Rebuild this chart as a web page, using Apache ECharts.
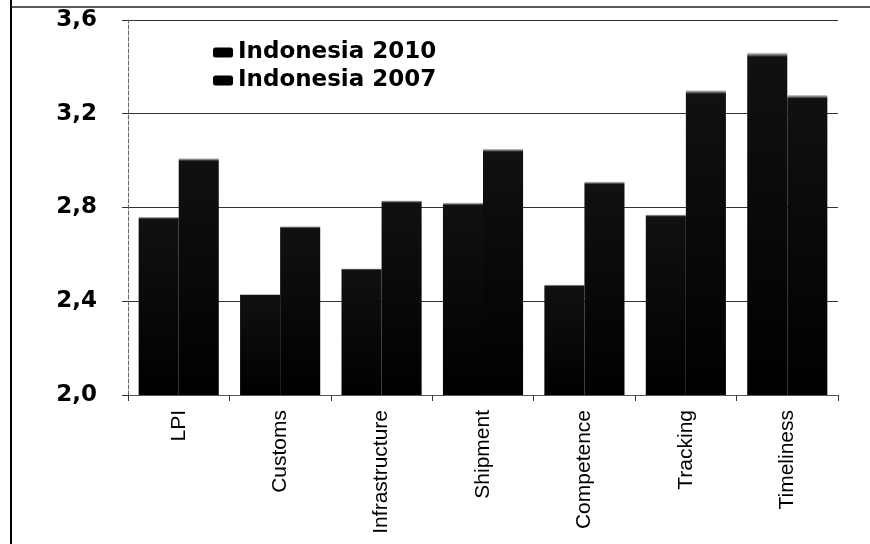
<!DOCTYPE html>
<html>
<head>
<meta charset="utf-8">
<script src="https://cdn.jsdelivr.net/npm/echarts@6/dist/echarts.min.js"></script>
<style>
  html, body { margin: 0; padding: 0; background: #fff; }
  #chart { width: 870px; height: 544px; }
</style>
</head>
<body>
<div id="chart"></div>
<script>
// categories and values
const categories = ["LPI", "Customs", "Infrastructure", "Shipment", "Competence", "Tracking", "Timeliness"];
const indonesia2010 = [2.76, 2.43, 2.54, 2.82, 2.47, 2.77, 3.46];
const indonesia2007 = [3.01, 2.72, 2.83, 3.05, 2.91, 3.30, 3.28];
const yTicks = [2.0, 2.4, 2.8, 3.2, 3.6];

const chart = echarts.init(document.getElementById("chart"));

// black bars with a thin light rim on top
const barFill = {
  type: "linear", x: 0, y: 0, x2: 0, y2: 1,
  colorStops: [
    { offset: 0, color: "#d8d8d8" },
    { offset: 0.012, color: "#111" },
    { offset: 1, color: "#000" },
  ],
};

const option = {
  backgroundColor: "#fff",
  animation: false,
  grid: { left: 128, right: 32, top: 20, bottom: 149 },
  legend: {
    orient: "vertical",
    left: 208,
    top: 36,
    itemWidth: 20,
    itemHeight: 10,
    itemGap: 5,
    icon: "roundRect",
    textStyle: {
      fontFamily: "DejaVu Sans",
      fontWeight: "bold",
      fontSize: 23,
      lineHeight: 21,
      color: "#000",
    },
    data: [
      { name: "Indonesia 2010", itemStyle: { color: "#000" } },
      { name: "Indonesia 2007", itemStyle: { color: "#000" } },
    ],
  },
  xAxis: {
    type: "category",
    data: categories,
    axisLine: { lineStyle: { color: "#555", width: 1 } },
    axisTick: { show: true, length: 6, lineStyle: { color: "#333" } },
    axisLabel: {
      rotate: 90,
      margin: 15,
      color: "#000",
      fontSize: 21,
      fontFamily: "Liberation Sans Narrow, Arial Narrow, Liberation Sans, sans-serif",
    },
  },
  yAxis: {
    type: "value",
    min: yTicks[0],
    max: yTicks[yTicks.length - 1],
    interval: 0.4,
    axisLine: { show: true, lineStyle: { color: "#666", type: "dashed", width: 1 } },
    axisTick: { show: true, length: 6, lineStyle: { color: "#333" } },
    axisLabel: {
      margin: 31,
      color: "#000",
      fontSize: 23,
      fontFamily: "DejaVu Sans",
      fontWeight: "bold",
      formatter: (v) => v.toFixed(1).replace(".", ","),
    },
    splitLine: { show: true, lineStyle: { color: "#333", width: 1 } },
  },
  series: [
    {
      name: "Indonesia 2010",
      type: "bar",
      data: indonesia2010,
      barGap: "0%",
      barCategoryGap: "21%",
      itemStyle: { color: barFill },
    },
    {
      name: "Indonesia 2007",
      type: "bar",
      data: indonesia2007,
      itemStyle: { color: barFill },
    },
  ],
  graphic: [
    // frame of the scanned figure
    { type: "line", shape: { x1: 11, y1: 0, x2: 11, y2: 544 }, style: { stroke: "#000", lineWidth: 2 } },
    { type: "line", shape: { x1: 11, y1: 7, x2: 870, y2: 7 }, style: { stroke: "#222", lineWidth: 1.5 } },
  ],
};

chart.setOption(option);
</script>
</body>
</html>
